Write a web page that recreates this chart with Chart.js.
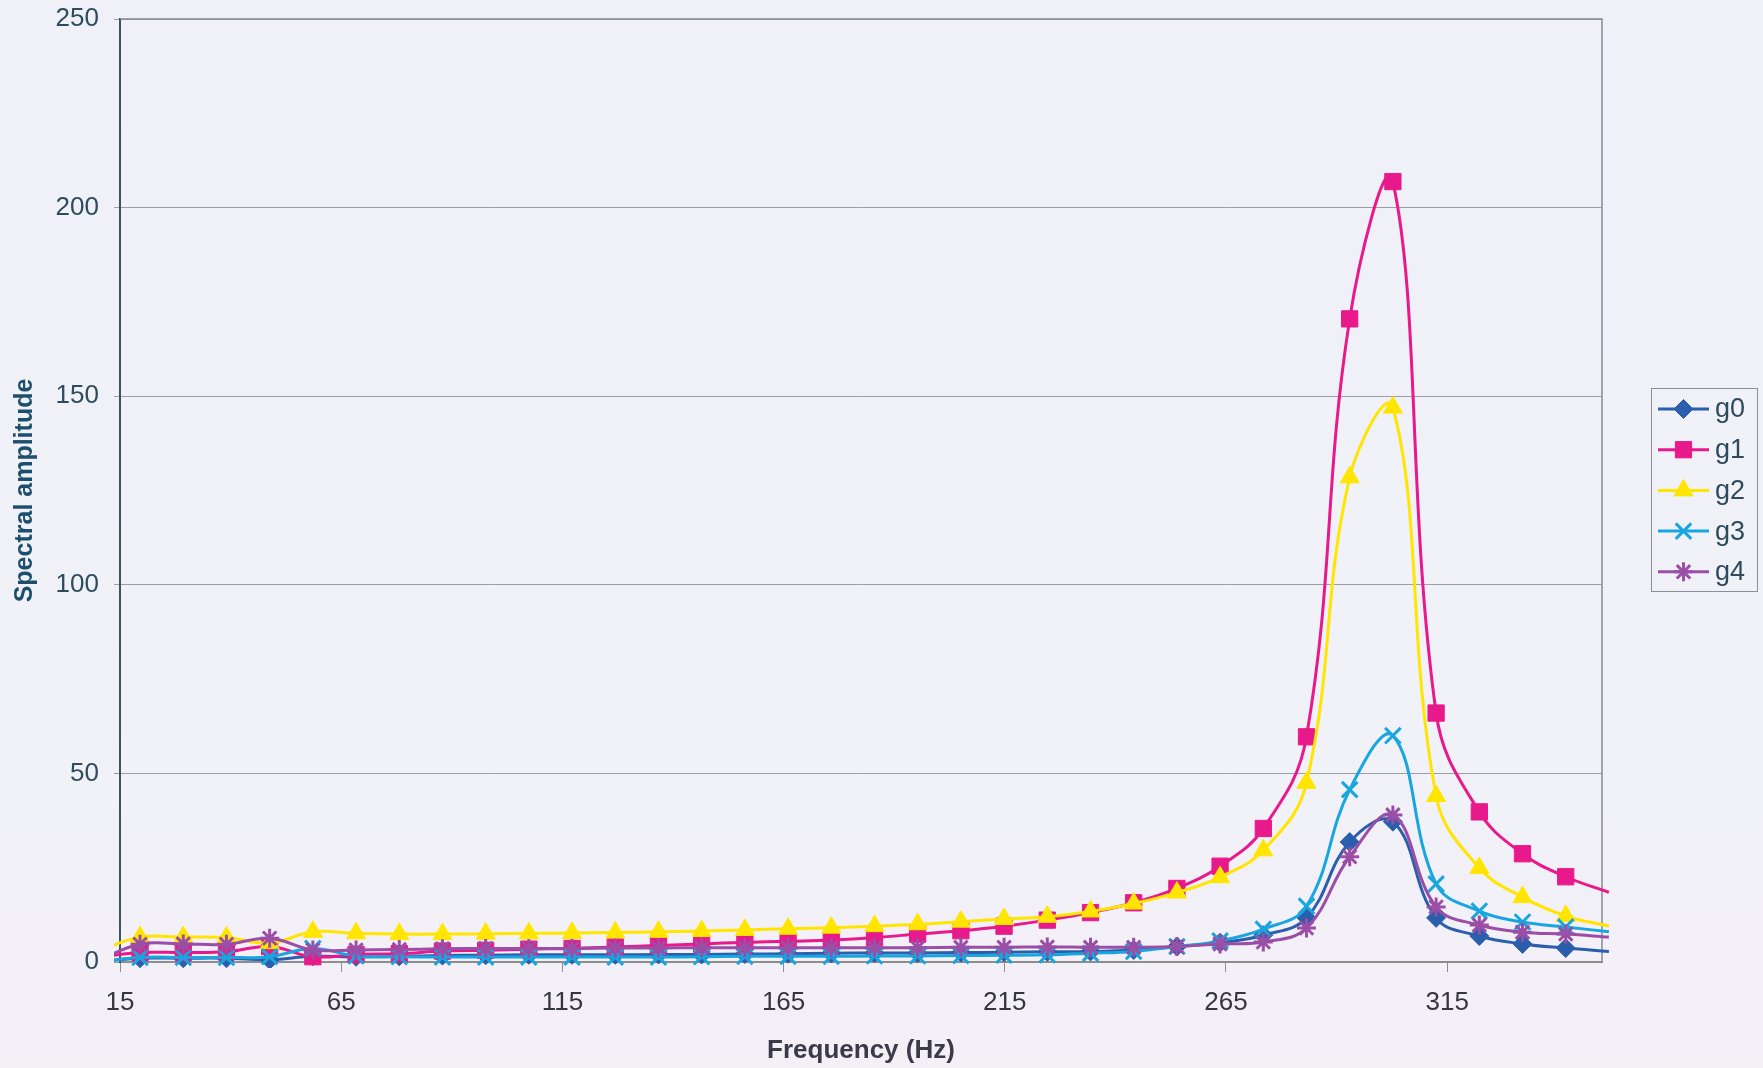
<!DOCTYPE html>
<html>
<head>
<meta charset="utf-8">
<title>Spectral amplitude</title>
<script src="https://cdn.jsdelivr.net/npm/chart.js@4.4.0/dist/chart.umd.min.js"></script>
<style>
  html, body { margin: 0; padding: 0; overflow: hidden; }
  body { width: 1763px; height: 1068px; background: linear-gradient(#f0f0f8, #f1f1f8 75%, #f5eff6); }
  #chart { display: block; }
</style>
</head>
<body>
<canvas id="chart" width="1763" height="1068"></canvas>
<script>
// FFT bin frequencies (Hz)
const freqs = [9.77, 19.53, 29.3, 39.06, 48.83, 58.59, 68.36, 78.13, 87.89, 97.66,
  107.42, 117.19, 126.95, 136.72, 146.48, 156.25, 166.02, 175.78, 185.55, 195.31,
  205.08, 214.84, 224.61, 234.38, 244.14, 253.91, 263.67, 273.44, 283.2, 292.97,
  302.73, 312.5, 322.27, 332.03, 341.8, 351.56];

const xTicks = [15, 65, 115, 165, 215, 265, 315];

// spectral amplitude per series
const g0 = [0, 1.0, 1.0, 1.0, 0.6, 1.5, 1.4, 1.5, 1.7, 1.8, 1.9, 1.9, 1.9, 2.0, 2.0, 2.1, 2.2, 2.3,
  2.4, 2.4, 2.5, 2.6, 2.7, 2.8, 3.2, 4.1, 5.1, 7.1, 11.7, 31.8, 37.2, 11.7, 6.9, 4.8, 3.7, 2.8];
const g1 = [1.2, 2.5, 2.5, 2.7, 4.1, 1.4, 2.0, 2.2, 2.9, 3.1, 3.4, 3.6, 4.0, 4.4, 4.8, 5.2, 5.5, 5.8,
  6.5, 7.4, 8.3, 9.5, 11.1, 13.1, 15.7, 19.5, 25.4, 35.4, 59.7, 170.5, 206.9, 66.0, 39.8, 28.7, 22.6, 18.5];
const g2 = [2.7, 6.6, 6.6, 6.5, 5.0, 8.0, 7.6, 7.4, 7.4, 7.5, 7.6, 7.7, 7.8, 8.0, 8.2, 8.5, 8.8, 9.1,
  9.5, 10.0, 10.7, 11.4, 12.0, 13.4, 15.5, 18.4, 22.5, 29.6, 47.5, 128.5, 147.0, 44.0, 24.9, 17.2, 12.2, 9.5];
const g3 = [0, 1.2, 1.2, 1.2, 1.4, 3.6, 1.6, 1.4, 1.3, 1.3, 1.3, 1.3, 1.3, 1.3, 1.4, 1.5, 1.5, 1.5,
  1.6, 1.6, 1.7, 1.8, 1.9, 2.3, 2.8, 4.1, 5.6, 8.7, 14.8, 45.7, 60.0, 20.7, 13.5, 10.6, 9.3, 8.0];
const g4 = [0.3, 4.7, 4.8, 4.7, 6.3, 3.2, 3.2, 3.3, 3.5, 3.6, 3.6, 3.6, 3.7, 3.7, 3.8, 3.8, 3.8, 3.8,
  3.8, 3.8, 3.9, 3.9, 4.0, 3.9, 3.9, 4.1, 4.8, 5.3, 9.0, 27.9, 39.0, 14.6, 9.8, 7.9, 7.4, 6.6];

const FONT = "'Liberation Sans', Arial, sans-serif";

function makeSeries(label, values, color, style, size, order) {
  const open = style === 'crossRot' || style === 'star';
  return {
    label: label,
    data: values.map((v, i) => ({ x: freqs[i], y: v })),
    borderColor: color,
    backgroundColor: color,
    borderWidth: 3,
    tension: 0.4,
    pointStyle: style,
    pointRadius: c => c.dataIndex === freqs.length - 1 ? 0 : size, // last bin is past the axis
    pointBorderWidth: open ? 3 : 1,
    pointBackgroundColor: color,
    pointBorderColor: color,
    legendRadius: size,
    clip: { left: 6, top: false, right: 8, bottom: 6 },
    order: order
  };
}

const datasets = [
  makeSeries('g0', g0, '#2b5fad', 'rectRot', 9.5, 5),
  makeSeries('g1', g1, '#e8198b', 'rect', 11.5, 4),
  makeSeries('g2', g2, '#ffe500', 'triangle', 11, 3),
  makeSeries('g3', g3, '#19a6e0', 'crossRot', 11, 2),
  makeSeries('g4', g4, '#9b4ea6', 'star', 9.5, 1)
];

// top + right edge of the plot box
const frame = {
  id: 'frame',
  beforeDatasetsDraw(chart) {
    const { ctx, chartArea: a } = chart;
    ctx.save();
    ctx.strokeStyle = '#848c97';
    ctx.lineWidth = 1.5;
    ctx.beginPath();
    ctx.moveTo(a.left, a.top);
    ctx.lineTo(a.right, a.top);
    ctx.lineTo(a.right, a.bottom);
    ctx.stroke();
    ctx.restore();
  }
};

// Excel-like legend: line sample with marker, inside a box
const boxLegend = {
  id: 'boxLegend',
  afterDraw(chart) {
    const ctx = chart.ctx;
    const box = { x: 1651, y: 388, w: 106, h: 203 };
    ctx.save();
    ctx.strokeStyle = '#8a8f9a';
    ctx.lineWidth = 1;
    ctx.strokeRect(box.x + 0.5, box.y + 0.5, box.w, box.h);
    chart.data.datasets.forEach((ds, i) => {
      const y = box.y + 21 + i * 40.7;
      ctx.strokeStyle = ds.borderColor;
      ctx.fillStyle = ds.borderColor;
      ctx.lineWidth = 3;
      ctx.beginPath();
      ctx.moveTo(box.x + 7, y);
      ctx.lineTo(box.x + 58, y);
      ctx.stroke();
      ctx.lineWidth = ds.pointBorderWidth;
      Chart.helpers.drawPoint(ctx, {
        pointStyle: ds.pointStyle,
        radius: ds.legendRadius,
        borderWidth: ds.pointBorderWidth,
        rotation: 0
      }, box.x + 32.5, y);
      ctx.fillStyle = '#2e4b5c';
      ctx.font = '27px ' + FONT;
      ctx.textBaseline = 'middle';
      ctx.textAlign = 'left';
      ctx.fillText(ds.label, box.x + 64, y + 1);
    });
    ctx.restore();
  }
};

new Chart(document.getElementById('chart'), {
  type: 'line',
  data: { datasets: datasets },
  options: {
    responsive: false,
    animation: false,
    events: [],
    layout: { padding: { top: 19, right: 161, bottom: 0, left: 0 } },
    plugins: {
      legend: { display: false },
      tooltip: { enabled: false }
    },
    scales: {
      x: {
        type: 'linear',
        min: 15,
        max: 350,
        afterBuildTicks: s => { s.ticks = xTicks.map(v => ({ value: v })); },
        afterFit: s => { s.height = 106; },
        grid: { drawOnChartArea: false, drawTicks: true, tickLength: 10, color: '#8d8d8d' },
        border: { color: '#8d8d8d', width: 2 },
        ticks: { color: '#35353f', font: { family: FONT, size: 26 }, padding: 15, maxRotation: 0 },
        title: {
          display: true,
          text: 'Frequency (Hz)',
          color: '#3a3a48',
          font: { family: FONT, size: 26, weight: 'bold' },
          padding: { top: 0, bottom: 2 }
        }
      },
      y: {
        min: 0,
        max: 250,
        // fixed axis width, and let the layout padding decide the top edge
        afterFit: s => { s.width = 120; s.paddingTop = 0; s.paddingBottom = 0; },
        grid: { color: '#9d9da7', lineWidth: 1, tickLength: 6 },
        border: { color: '#3d5460', width: 2 },
        ticks: { stepSize: 50, color: '#2e4d5c', font: { family: FONT, size: 26 }, padding: 15 },
        title: {
          display: true,
          text: 'Spectral amplitude',
          color: '#1c4f6e',
          font: { family: FONT, size: 25, weight: 'bold' },
          padding: { top: 10, bottom: 0 }
        }
      }
    }
  },
  plugins: [frame, boxLegend]
});
</script>
</body>
</html>
